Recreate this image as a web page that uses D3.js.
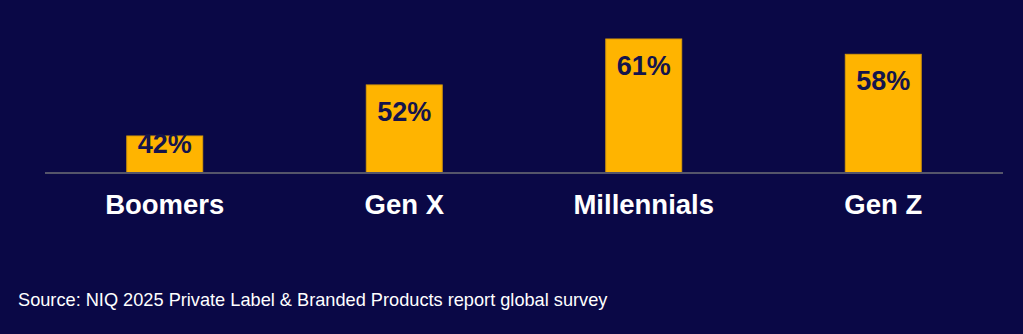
<!DOCTYPE html>
<html>
<head>
<meta charset="utf-8">
<script src="https://cdn.jsdelivr.net/npm/d3@7"></script>
<style>
  html, body { margin: 0; padding: 0; background: #0a0846; }
  svg { display: block; }
</style>
</head>
<body>
<div id="chart"></div>
<script>
const generations = ["Boomers", "Gen X", "Millennials", "Gen Z"];
const shares = [42, 52, 61, 58];
const valueLabels = ["42%", "52%", "61%", "58%"];
const sourceNote = "Source: NIQ 2025 Private Label & Branded Products report global survey";

const width = 1023, height = 334;
const baseY = 173;

const svg = d3.select("#chart")
    .append("svg")
    .attr("width", width)
    .attr("height", height);

svg.append("rect")
    .attr("width", width)
    .attr("height", height)
    .attr("fill", "#0a0846");

const x = d3.scaleBand()
    .domain(generations)
    .range([45, 1003])
    .paddingInner(0.683)
    .paddingOuter(0.683 / 2);

// axis doesn't start at zero in the original
const y = d3.scaleLinear()
    .domain([34.75, 61])
    .range([baseY, 39]);

const data = generations.map((g, i) => ({ name: g, value: shares[i], label: valueLabels[i] }));

svg.append("g")
    .selectAll("rect")
    .data(data)
    .enter()
    .append("rect")
    .attr("x", d => x(d.name))
    .attr("y", d => y(d.value))
    .attr("width", x.bandwidth())
    .attr("height", d => baseY - y(d.value))
    .attr("fill", "#ffb400")
    .attr("stroke", "#d99a08")
    .attr("stroke-width", 1);

svg.append("line")
    .attr("x1", 45)
    .attr("x2", 1003)
    .attr("y1", baseY)
    .attr("y2", baseY)
    .attr("stroke", "#55556a")
    .attr("stroke-width", 2);

svg.append("g")
    .selectAll("text")
    .data(data)
    .enter()
    .append("text")
    .attr("x", d => x(d.name) + x.bandwidth() / 2)
    .attr("y", d => Math.min(y(d.value) + 36, baseY - 20))
    .attr("text-anchor", "middle")
    .style("font-family", "'Liberation Sans', Arial, sans-serif")
    .style("font-weight", "bold")
    .style("font-size", "27px")
    .style("fill", "#14144c")
    .text(d => d.label);

svg.append("g")
    .selectAll("text")
    .data(data)
    .enter()
    .append("text")
    .attr("x", d => x(d.name) + x.bandwidth() / 2)
    .attr("y", 214)
    .attr("text-anchor", "middle")
    .style("font-family", "'Liberation Sans', Arial, sans-serif")
    .style("font-weight", "bold")
    .style("font-size", "27.5px")
    .style("fill", "#ffffff")
    .text(d => d.name);

svg.append("text")
    .attr("x", 18)
    .attr("y", 306)
    .style("font-family", "'Liberation Sans', Arial, sans-serif")
    .style("font-size", "18.2px")
    .style("fill", "#ffffff")
    .text(sourceNote);
</script>
</body>
</html>
